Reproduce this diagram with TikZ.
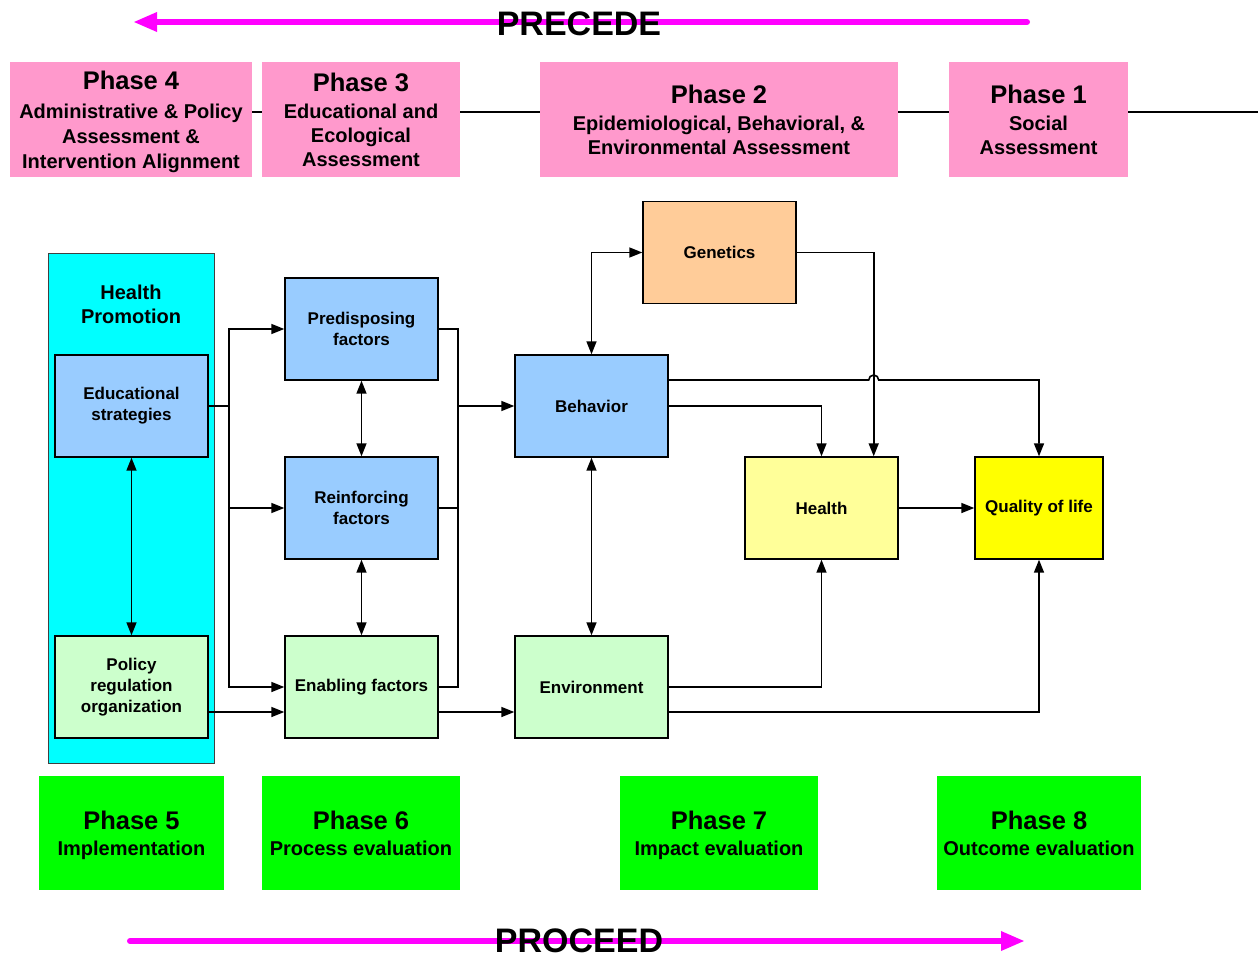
\documentclass[tikz,border=0pt]{standalone}
\usepackage{fontspec}
\setmainfont{Liberation Sans}
\usetikzlibrary{arrows.meta}

\definecolor{phasepink}{HTML}{FF99CC}
\definecolor{phasegreen}{HTML}{00FF00}
\definecolor{hpcyan}{HTML}{00FFFF}
\definecolor{boxblue}{HTML}{99CCFF}
\definecolor{boxgreen}{HTML}{CCFFCC}
\definecolor{boxorange}{HTML}{FFCC99}
\definecolor{boxlyellow}{HTML}{FFFF99}
\definecolor{boxyellow}{HTML}{FFFF00}
\definecolor{arrowmag}{HTML}{FF00FF}

\newcommand{\phasetitle}[1]{{\fontsize{25.5}{28}\selectfont #1}}

\begin{document}
\begin{tikzpicture}[x=1pt,y=-1pt,
	box/.style={draw=black,line width=1.4pt,minimum width=153pt,minimum height=102pt,inner sep=0pt,align=center,font=\fontsize{17}{21}\selectfont\bfseries},
	phasetop/.style={fill=phasepink,inner sep=0pt,align=center,minimum height=115pt,text depth=0pt,font=\fontsize{20}{24}\selectfont\bfseries},
	phasebot/.style={fill=phasegreen,inner sep=0pt,align=center,minimum height=114pt,text depth=0pt,font=\fontsize{20}{26}\selectfont\bfseries},
	arr/.style={line width=1.6pt,-{Triangle[length=13pt,width=10pt]}},
	dbl/.style={line width=1.6pt,{Triangle[length=13pt,width=10pt]}-{Triangle[length=13pt,width=10pt]}},
	bigarr/.style={draw=arrowmag,line width=6pt,line cap=round,-{Triangle[length=24pt,width=18pt]}}]
	\clip (0,0) rectangle (1258,958);
	
	
	
	% precede arrow
	\coordinate (pre1) at (1027,22);
	\coordinate (pre2) at (133,22);
	\draw [bigarr] (pre1) -- (pre2);
	\node [anchor=base,inner sep=0pt,font=\fontsize{34}{36}\selectfont\bfseries] (precede) at (579,36) {PRECEDE};
	
	
	
	% phases 4 to 1
	\node [phasetop,minimum width=242pt,font=\fontsize{20}{25}\selectfont\bfseries] (ph4) at (131,119.5) {\phasetitle{Phase 4}\\[4pt]Administrative \& Policy\\Assessment \&\\Intervention Alignment};
	\coordinate (lineend) at (1258,112);
	\draw [line width=2pt] (ph4.east |- lineend) -- (lineend);
	\node [phasetop,minimum width=198pt] (ph3) at (361,119.5) {\phasetitle{Phase 3}\\[3pt]Educational and\\Ecological\\Assessment};
	\node [phasetop,minimum width=358pt] (ph2) at (719,119.5) {\phasetitle{Phase 2}\\[3pt]Epidemiological, Behavioral, \&\\Environmental Assessment};
	\node [phasetop,minimum width=179pt] (ph1) at (1038.5,119.5) {\phasetitle{Phase 1}\\[3pt]Social\\Assessment};
	
	
	
	% health promotion
	\node [draw=black!75,line width=0.8pt,fill=hpcyan,minimum width=166pt,minimum height=510pt,inner sep=0pt] (hp) at (131,508) {};
	\node [align=center,font=\fontsize{20}{24}\selectfont\bfseries] (hptitle) at (131,304) {Health\\Promotion};
	\node [box,fill=boxblue] (edu) at (131.5,406) {Educational\\strategies};
	\node [box,fill=boxgreen] (policy) at (131.5,687) {Policy\\regulation\\organization};
	
	
	
	% factors
	\node [box,fill=boxblue] (predis) at (361.5,329) {Predisposing\\factors};
	\node [box,fill=boxblue] (reinf) at (361.5,508) {Reinforcing\\factors};
	\node [box,fill=boxgreen] (enab) at (361.5,687) {Enabling factors};
	
	
	
	% behaviour, environment, genetics
	\node [box,fill=boxblue] (behav) at (591.5,406) {Behavior};
	\node [box,fill=boxgreen] (envir) at (591.5,687) {Environment};
	\node [box,fill=boxorange] (genet) at (719.5,252.5) {Genetics};
	
	
	
	% outcomes
	\node [box,fill=boxlyellow] (health) at (821.5,508) {Health};
	\node [box,fill=boxyellow,minimum width=128pt] (qol) at (1039,508) {Quality of life};
	
	
	
	% connectors on the left
	\draw [line width=1.6pt] (edu.east) -- ++(20,0) coordinate (eb);
	\draw [arr] (eb) |- (predis.west);
	\draw [arr] (eb) |- (reinf.west);
	\draw [arr] (eb) |- (enab.west);
	\draw [arr] ([yshift=-25pt]policy.east) -- ([yshift=-25pt]enab.west);
	\draw [dbl] (edu) -- (policy);
	\draw [dbl] (predis) -- (reinf);
	\draw [dbl] (reinf) -- (enab);
	
	
	
	% factors into behaviour
	\draw [line width=1.6pt] (predis.east) -- ++(19,0) coordinate (fr) |- (enab.east);
	\draw [line width=1.6pt] (reinf.east) -- (reinf.east -| fr);
	\draw [arr] (fr |- behav.west) -- (behav.west);
	\draw [arr] ([yshift=-25pt]enab.east) -- ([yshift=-25pt]envir.west);
	\draw [dbl] (behav) -- (envir);
	\draw [dbl] (behav.north) |- (genet.west);
	
	
	
	% into health and quality of life
	\draw [arr] (genet.east) -| ([xshift=-25pt]health.north east);
	\draw [arr] (behav.east) -| (health.north);
	\draw [arr] ([yshift=26pt]behav.east) -- ++(200,0) arc[start angle=180,end angle=0,radius=5pt] -| (qol.north);
	\draw [arr] (health) -- (qol);
	\draw [arr] (envir.east) -| (health.south);
	\draw [arr] ([yshift=-25pt]envir.east) -| (qol.south);
	
	
	
	% phases 5 to 8
	\node [phasebot,minimum width=185pt] (ph5) at (131.5,833) {\phasetitle{Phase 5}\\Implementation};
	\node [phasebot,minimum width=198pt] (ph6) at (361,833) {\phasetitle{Phase 6}\\Process evaluation};
	\node [phasebot,minimum width=198pt] (ph7) at (719,833) {\phasetitle{Phase 7}\\Impact evaluation};
	\node [phasebot,minimum width=204pt] (ph8) at (1039,833) {\phasetitle{Phase 8}\\Outcome evaluation};
	
	
	
	% proceed arrow
	\coordinate (pro1) at (130,941);
	\coordinate (pro2) at (1025,941);
	\draw [bigarr] (pro1) -- (pro2);
	\node [anchor=base,inner sep=0pt,font=\fontsize{34}{36}\selectfont\bfseries] (proceed) at (579,952) {PROCEED};
	 
\end{tikzpicture}
\end{document}
